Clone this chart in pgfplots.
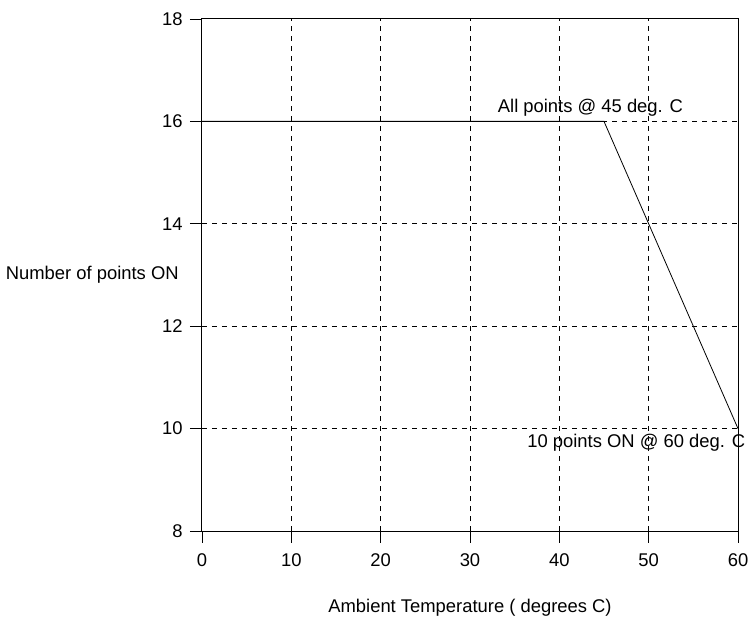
\documentclass[border=0pt]{standalone}
\usepackage{pgfplots}
\pgfplotsset{compat=1.18}
\usepackage{fontspec}
\setmainfont{Liberation Sans}
\begin{document}
\fontsize{18.4bp}{22bp}\selectfont
\begin{tikzpicture}
\useasboundingbox (-202bp,-87bp) rectangle (548bp,531bp);
\begin{axis}[
  at={(0,0)}, anchor=south west,
  scale only axis, width=536bp, height=512bp,
  xmin=0, xmax=60, ymin=8, ymax=18,
  xtick={10,20,...,50}, ytick={10,12,...,16},
  extra x ticks={0,60}, extra y ticks={8,18},
  extra tick style={grid=none},
  /pgf/number format/assume math mode=true,
  tick pos=left, tick align=outside,
  major tick length=12bp,
  tick style={line width=0.9bp, black},
  axis line style={line width=1bp},
  axis on top,
  grid=major,
  major grid style={dash pattern=on 5bp off 5bp, line width=0.8bp, black},
  xticklabel style={yshift=-4bp},
  yticklabel style={xshift=-1bp},
  xlabel={Ambient Temperature ( degrees C)},
  xlabel style={at={(axis description cs:0.5,0)}, anchor=base, yshift=-81bp},
  clip=false,
  tick label style={font=\fontsize{18.4bp}{22bp}\selectfont},
]
\addplot[black, line width=0.8bp] coordinates {(0,16) (45,16) (60,10)};
\node[anchor=east, xshift=-17bp] at (rel axis cs:0,0.5) {Number of points ON};
\node[anchor=base west, yshift=9bp, inner sep=0pt] at (axis cs:33.1,16) {All points @ 45 deg. C};
\node[anchor=base west, yshift=-19bp, inner sep=0pt] at (axis cs:36.4,10) {10 points ON @ 60 deg. C};
\end{axis}
\end{tikzpicture}
\end{document}
